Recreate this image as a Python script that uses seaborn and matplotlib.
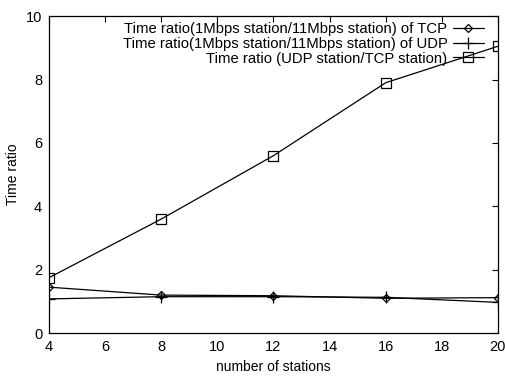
import matplotlib
matplotlib.use("Agg")
import matplotlib.pyplot as plt
import seaborn as sns
import pandas as pd

stations = [4, 8, 12, 16, 20]
tcp_ratio = [1.45, 1.2, 1.18, 1.1, 1.12]
udp_ratio = [1.08, 1.15, 1.15, 1.13, 0.97]
udp_tcp_ratio = [1.75, 3.6, 5.6, 7.9, 9.05]

labels = [
    "Time ratio(1Mbps station/11Mbps station) of TCP",
    "Time ratio(1Mbps station/11Mbps station) of UDP",
    "Time ratio (UDP station/TCP station)",
]
markers = ["D", "+", "s"]
sizes = [4.5, 8, 7]

sns.set_theme(style="white")
plt.rcParams["font.family"] = ["Liberation Sans", "DejaVu Sans"]

fig = plt.figure(figsize=(5.06, 3.76), dpi=100)
ax = fig.add_axes([0.097, 0.114, 0.887, 0.843])

for vals, lab, mk, ms in zip([tcp_ratio, udp_ratio, udp_tcp_ratio], labels, markers, sizes):
    df = pd.DataFrame({"x": stations, "y": vals})
    sns.lineplot(data=df, x="x", y="y", ax=ax, color="black", linewidth=0.9,
                 marker=mk, markersize=ms,
                 markerfacecolor="none", markeredgecolor="black",
                 markeredgewidth=0.9, label=lab)

ax.set_xlim(4, 20)
ax.set_ylim(0, 10)
ax.set_xticks(range(4, 21, 2))
ax.set_yticks(range(0, 11, 2))
ax.set_xlabel("number of stations", fontsize=10, color="black")
ax.set_ylabel("Time ratio", fontsize=10, color="black")
ax.tick_params(direction="in", length=4, width=0.8, top=True, right=True,
               labelsize=10.5, colors="black", pad=5)
for sp in ax.spines.values():
    sp.set_color("black")
    sp.set_linewidth(0.9)

leg = ax.legend(loc="upper right", bbox_to_anchor=(0.982, 1.0), frameon=False,
                markerfirst=False, fontsize=10.7, handlelength=2.1,
                handletextpad=0.35, labelspacing=0.05, borderaxespad=0.0,
                alignment="right")
for t in leg.get_texts():
    t.set_color("black")
for vp in leg.get_children()[0].get_children()[1].get_children():
    vp.align = "right"

fig.savefig("out.png", dpi=100)
